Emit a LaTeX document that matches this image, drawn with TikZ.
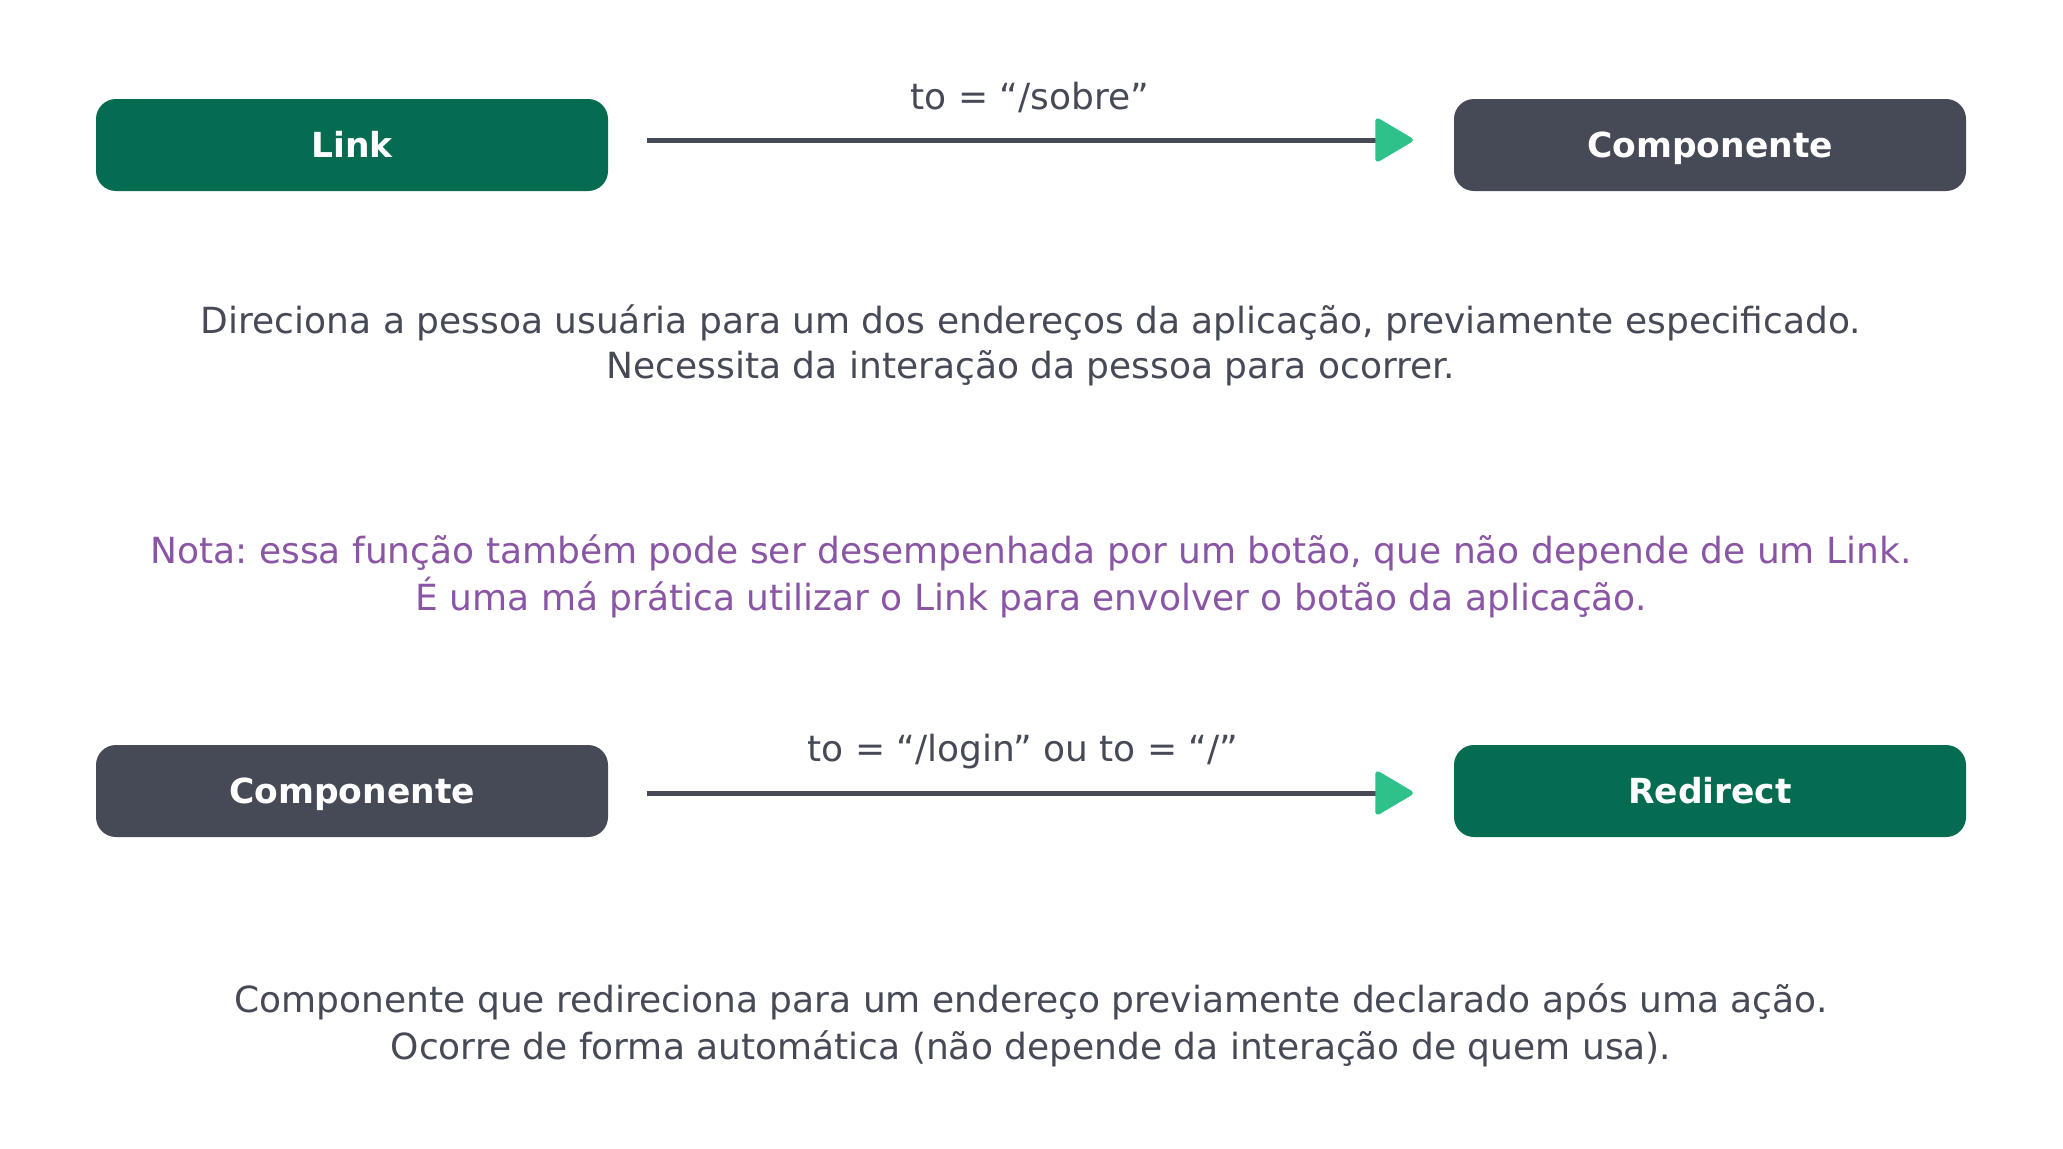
\documentclass[tikz,border=0pt]{standalone}
\usepackage{fontspec}
\setmainfont{DejaVu Sans}
\usetikzlibrary{arrows.meta}
\frenchspacing
\definecolor{gbox}{HTML}{056B51}
\definecolor{dbox}{HTML}{464A56}
\definecolor{tip}{HTML}{2EC28A}
\definecolor{txt}{HTML}{464A56}
\definecolor{note}{HTML}{8B55A5}
\begin{document}
\begin{tikzpicture}[x=1pt,y=-1pt,
  box/.style={rounded corners=20pt,minimum width=512pt,minimum height=92pt,inner sep=0pt,
    text height=25pt,text depth=0pt,
    text=white,font=\fontsize{34.5}{40}\selectfont\bfseries},
  gboxs/.style={box,fill=gbox},
  dboxs/.style={box,fill=dbox},
  conn/.style={draw=dbox,line width=5pt,shorten <=39pt,shorten >=41pt,
    -{Triangle[length=40pt,width=46pt,round,color=tip,fill=tip]}},
  lbl/.style={text=txt,font=\fontsize{36}{40}\selectfont,inner sep=0pt},
  para/.style={text=txt,align=center,font=\fontsize{36}{45}\selectfont,inner sep=0pt},
  notes/.style={para,text=note,font=\fontsize{36}{47}\selectfont},
  para2/.style={para,font=\fontsize{36}{47}\selectfont}]
\useasboundingbox[fill=white] (0,0) rectangle (2063,1148);
\node[gboxs] (link) at (352,145) {Link};
\node[dboxs] (comp1) at (1710,145) {Componente};
\draw[conn] ([yshift=5pt]link.east) -- ([yshift=5pt]comp1.west);
\node[lbl] (l1) at (1030,97) {to = “/sobre”};
\node[para] (p1) at (1031,345) {Direciona a pessoa usuária para um dos endereços da aplicação, previamente especificado.\\Necessita da interação da pessoa para ocorrer.};
\node[notes] (n1) at (1031,576) {Nota: essa função também pode ser desempenhada por um botão, que não depende de um Link.\\É uma má prática utilizar o Link para envolver o botão da aplicação.};
\node[dboxs] (comp2) at (352,791) {Componente};
\node[gboxs] (red) at (1710,791) {Redirect};
\draw[conn] ([yshift=-2pt]comp2.east) -- ([yshift=-2pt]red.west);
\node[lbl] (l2) at (1023,752) {to = “/login” ou to = “/”};
\node[para2] (p2) at (1031,1025) {Componente que redireciona para um endereço previamente declarado após uma ação.\\Ocorre de forma automática (não depende da interação de quem usa).};
\end{tikzpicture}
\end{document}
